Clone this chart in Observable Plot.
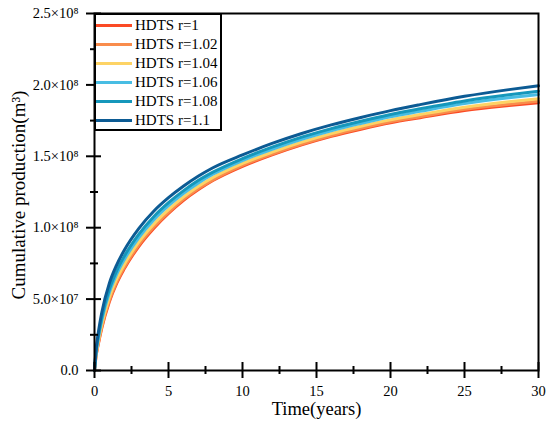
<!DOCTYPE html>
<html>
<head>
<meta charset="utf-8">
<script src="https://cdn.jsdelivr.net/npm/d3@7"></script>
<script src="https://cdn.jsdelivr.net/npm/@observablehq/plot@0.6"></script>
<style>
  body { margin: 0; background: #fff; }
  #wrap { position: relative; width: 550px; height: 427px; font-family: "Liberation Serif", "Times New Roman", serif; }
  #legend { position: absolute; left: 94px; top: 13px; width: 124px; height: 114px; border: 2px solid #000; background: #fff; box-sizing: content-box; }
  .row { position: absolute; left: 0; height: 19px; display: flex; align-items: center; font-size: 15px; color: #000; white-space: nowrap; }
  .sw { width: 36px; height: 3px; margin-left: 0px; margin-right: 3px; }
</style>
</head>
<body>
<div id="wrap"></div>
<script>
const time = [0, 0.1, 0.25, 0.5, 1, 1.5, 2, 3, 4, 5, 6, 7, 8, 10, 12, 14, 16, 18, 20, 22, 25, 28, 30];
const r100 = [0, 0.095, 0.18, 0.30, 0.48, 0.61, 0.71, 0.87, 0.995, 1.10, 1.19, 1.265, 1.33, 1.43, 1.51, 1.58, 1.64, 1.69, 1.735, 1.77, 1.82, 1.855, 1.875];
const r102 = [0, 0.098, 0.186, 0.309, 0.49, 0.62, 0.72, 0.88, 1.005, 1.108, 1.198, 1.273, 1.335, 1.436, 1.516, 1.586, 1.646, 1.697, 1.742, 1.777, 1.829, 1.864, 1.886];
const r104 = [0, 0.106, 0.199, 0.326, 0.511, 0.641, 0.741, 0.90, 1.024, 1.126, 1.214, 1.288, 1.352, 1.45, 1.529, 1.599, 1.659, 1.71, 1.755, 1.792, 1.844, 1.882, 1.903];
const r106 = [0, 0.117, 0.219, 0.354, 0.544, 0.674, 0.774, 0.931, 1.054, 1.154, 1.239, 1.312, 1.374, 1.47, 1.549, 1.619, 1.679, 1.73, 1.777, 1.815, 1.869, 1.91, 1.933];
const r108 = [0, 0.126, 0.234, 0.375, 0.568, 0.698, 0.798, 0.955, 1.077, 1.175, 1.258, 1.33, 1.389, 1.484, 1.564, 1.634, 1.694, 1.746, 1.793, 1.833, 1.888, 1.931, 1.956];
const r110 = [0, 0.14, 0.26, 0.41, 0.61, 0.74, 0.84, 0.995, 1.115, 1.21, 1.29, 1.36, 1.42, 1.51, 1.59, 1.66, 1.72, 1.772, 1.82, 1.862, 1.92, 1.967, 1.994];
const seriesNames = ["HDTS r=1", "HDTS r=1.02", "HDTS r=1.04", "HDTS r=1.06", "HDTS r=1.08", "HDTS r=1.1"];
const seriesValues = [r100, r102, r104, r106, r108, r110];
const colors = ["#fb4a25", "#f98c4c", "#fdd365", "#48bde3", "#1597bb", "#0c5b94"];
const xMajor = [0, 5, 10, 15, 20, 25, 30];
const xMinor = [2.5, 7.5, 12.5, 17.5, 22.5, 27.5];
const yMajor = [0, 0.5e8, 1.0e8, 1.5e8, 2.0e8, 2.5e8];
const yMinor = [0.25e8, 0.75e8, 1.25e8, 1.75e8, 2.25e8];
const yLabels = ["0.0", "5.0×10⁷", "1.0×10⁸", "1.5×10⁸", "2.0×10⁸", "2.5×10⁸"];

const data = [];
seriesNames.forEach((name, s) => {
  time.forEach((t, i) => data.push({series: name, t, v: seriesValues[s][i] * 1e8}));
});

const chart = Plot.plot({
  width: 550,
  height: 427,
  marginLeft: 94,
  marginRight: 12,
  marginTop: 13,
  marginBottom: 57,
  style: {fontFamily: '"Liberation Serif", "Times New Roman", serif', fontSize: "14.5px", color: "#000", background: "#fff"},
  x: {domain: [0, 30]},
  y: {domain: [0, 2.5e8]},
  color: {domain: seriesNames, range: colors},
  marks: [
    Plot.line(data, {x: "t", y: "v", z: "series", stroke: "series", strokeWidth: 3, curve: "monotone-x"}),
    Plot.frame({stroke: "#000", strokeWidth: 2}),
    Plot.axisX(xMajor, {tickSize: 8, tickPadding: 7, strokeWidth: 2, label: null, fontSize: 14.5}),
    Plot.axisX(xMajor, {tickSize: 8, dy: -8, strokeWidth: 2, text: null, label: null}),
    Plot.axisX(xMinor, {tickSize: 4, strokeWidth: 2, text: null, label: null}),
    Plot.axisX(xMinor, {tickSize: 4, dy: -4, strokeWidth: 2, text: null, label: null}),
    Plot.axisY(yMajor, {tickSize: 8, tickPadding: 8, strokeWidth: 2, label: null, fontSize: 14.5,
      tickFormat: (d) => yLabels[yMajor.indexOf(d)]}),
    Plot.axisY(yMajor, {tickSize: 7, dx: 7, strokeWidth: 2, text: null, label: null}),
    Plot.axisY(yMinor, {tickSize: 4, strokeWidth: 2, text: null, label: null}),
    Plot.axisY(yMinor, {tickSize: 4, dx: 4, strokeWidth: 2, text: null, label: null}),
    Plot.text(["Time(years)"], {frameAnchor: "bottom", dy: 44, fontSize: 18.5, fill: "#000", textAnchor: "middle"}),
    Plot.text(["Cumulative production(m³)"], {frameAnchor: "left", dx: -76, dy: 3, rotate: -90, fontSize: 19, fill: "#000", textAnchor: "middle"})
  ]
});

const wrap = document.getElementById("wrap");
wrap.appendChild(chart);

const legend = document.createElement("div");
legend.id = "legend";
seriesNames.forEach((name, i) => {
  const row = document.createElement("div");
  row.className = "row";
  row.style.top = (0.5 + i * 19) + "px";
  const sw = document.createElement("div");
  sw.className = "sw";
  sw.style.background = colors[i];
  const tx = document.createElement("span");
  tx.textContent = name;
  row.appendChild(sw);
  row.appendChild(tx);
  legend.appendChild(row);
});
wrap.appendChild(legend);
</script>
</body>
</html>
